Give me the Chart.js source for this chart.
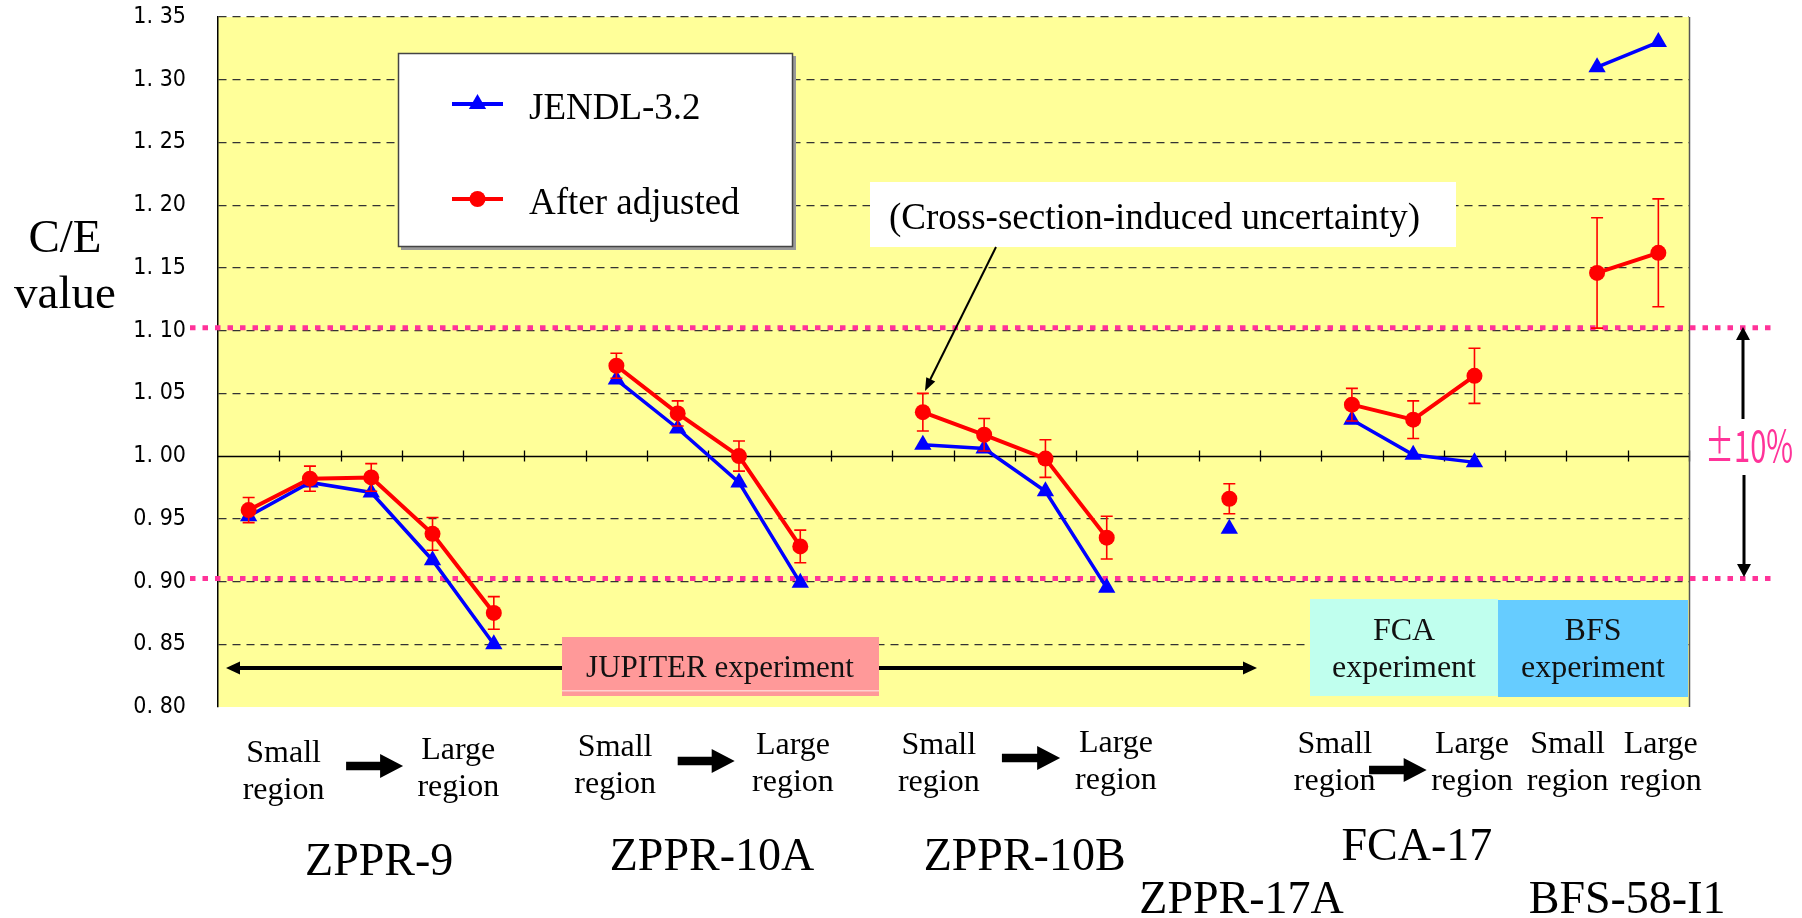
<!DOCTYPE html>
<html>
<head>
<meta charset="utf-8">
<script src="https://cdn.jsdelivr.net/npm/chart.js@4.4.1/dist/chart.umd.min.js"></script>
<style>
  html, body { margin: 0; padding: 0; background: #fff; }
  #wrap { width: 1802px; height: 918px; }
</style>
</head>
<body>
<div id="wrap"><canvas id="ceChart" width="1802" height="918"></canvas></div>
<script>
// one slot per measured region, '' = empty slot between experiments
const categories = ['Z9-1', 'Z9-2', 'Z9-3', 'Z9-4', 'Z9-5', '',
  'Z10A-1', 'Z10A-2', 'Z10A-3', 'Z10A-4', '',
  'Z10B-1', 'Z10B-2', 'Z10B-3', 'Z10B-4', '',
  'Z17A', '',
  'FCA-1', 'FCA-2', 'FCA-3', '',
  'BFS-1', 'BFS-2'];
const jendl = [0.952, 0.979, 0.971, 0.917, 0.850, null,
  1.061, 1.022, 0.979, 0.899, null,
  1.009, 1.006, 0.972, 0.895, null,
  0.942, null,
  1.029, 1.001, 0.995, null,
  1.310, 1.330];
const adjusted = [0.957, 0.982, 0.983, 0.938, 0.875, null,
  1.072, 1.034, 1.000, 0.928, null,
  1.035, 1.017, 0.998, 0.935, null,
  0.966, null,
  1.041, 1.029, 1.064, null,
  1.146, 1.162];
const adjustedErr = [0.010, 0.010, 0.011, 0.013, 0.013, null,
  0.010, 0.010, 0.012, 0.013, null,
  0.015, 0.013, 0.015, 0.017, null,
  0.012, null,
  0.013, 0.015, 0.022, null,
  0.044, 0.043];
const yTickLabels = ['0. 80', '0. 85', '0. 90', '0. 95', '1. 00', '1. 05',
  '1. 10', '1. 15', '1. 20', '1. 25', '1. 30', '1. 35'];
const seriesNames = ['JENDL-3.2', 'After adjusted'];
const limitLines = [0.90, 1.10];
const groupNames = ['ZPPR-9', 'ZPPR-10A', 'ZPPR-10B', 'ZPPR-17A', 'FCA-17', 'BFS-58-I1'];

const serif = '"Liberation Serif", "Times New Roman", serif';

// positions in category units (0 = left edge of plot)
const regionRows = [
  { small: 1.07, large: 3.92, arrow: [2.09, 3.02], ySmall: 762, yLarge: 759, yArrow: 766 },
  { small: 6.48, large: 9.38, arrow: [7.50, 8.43], ySmall: 756, yLarge: 754, yArrow: 761 },
  { small: 11.76, large: 14.65, arrow: [12.79, 13.74], ySmall: 754, yLarge: 752, yArrow: 758 },
  { small: 18.22, large: 20.46, arrow: [18.78, 19.72], ySmall: 753, yLarge: 753, yArrow: 770 },
  { small: 22.02, large: 23.54, arrow: null, ySmall: 753, yLarge: 753 }
];
const groupPos = [[2.63, 875], [8.06, 870], [13.16, 870], [16.70, 913], [19.56, 860], [22.99, 913]];

function arrowHead(ctx, fx, fy, tx, ty, len, half) {
  const a = Math.atan2(ty - fy, tx - fx);
  const bx = tx - len * Math.cos(a), by = ty - len * Math.sin(a);
  ctx.beginPath();
  ctx.moveTo(tx, ty);
  ctx.lineTo(bx + half * Math.sin(a), by - half * Math.cos(a));
  ctx.lineTo(bx - half * Math.sin(a), by + half * Math.cos(a));
  ctx.closePath();
  ctx.fill();
}

function blockArrow(ctx, x1, x2, y) {
  const head = 23, hh = 12, sh = 4.2;
  ctx.beginPath();
  ctx.moveTo(x1, y - sh);
  ctx.lineTo(x2 - head, y - sh);
  ctx.lineTo(x2 - head, y - hh);
  ctx.lineTo(x2, y);
  ctx.lineTo(x2 - head, y + hh);
  ctx.lineTo(x2 - head, y + sh);
  ctx.lineTo(x1, y + sh);
  ctx.closePath();
  ctx.fill();
}

function marker(ctx, style, x, y, r) {
  ctx.beginPath();
  if (style === 'triangle') {
    ctx.moveTo(x, y - r);
    ctx.lineTo(x + r * Math.sin(Math.PI / 3), y + r / 2);
    ctx.lineTo(x - r * Math.sin(Math.PI / 3), y + r / 2);
    ctx.closePath();
  } else {
    ctx.arc(x, y, r, 0, Math.PI * 2);
  }
  ctx.fill();
}

const plotBg = {
  id: 'plotBg',
  beforeDraw(chart) {
    const { ctx, chartArea: a } = chart;
    ctx.save();
    ctx.fillStyle = '#ffffff';
    ctx.fillRect(0, 0, chart.width, chart.height);
    ctx.fillStyle = '#FFFF99';
    ctx.fillRect(a.left, a.top, a.right - a.left, a.bottom - a.top);
    ctx.restore();
  }
};

const decor = {
  id: 'decor',
  beforeDatasetsDraw(chart) {
    const { ctx, chartArea: a, scales: { y: ys } } = chart;
    const catW = (a.right - a.left) / categories.length;
    ctx.save();

    // axis line at 1.00 with category ticks
    const y1 = Math.round(ys.getPixelForValue(1.0)) + 0.5;
    ctx.strokeStyle = '#000';
    ctx.lineWidth = 1.3;
    ctx.beginPath();
    ctx.moveTo(a.left, y1);
    ctx.lineTo(a.right, y1);
    for (let k = 1; k <= categories.length; k++) {
      const x = Math.round(a.left + k * catW) + 0.5;
      ctx.moveTo(x, y1 - 6);
      ctx.lineTo(x, y1 + 5);
    }
    ctx.stroke();

    // right frame
    ctx.strokeStyle = '#555';
    ctx.lineWidth = 1.5;
    ctx.beginPath();
    ctx.moveTo(a.right + 0.5, a.top);
    ctx.lineTo(a.right + 0.5, a.bottom);
    ctx.stroke();

    // +-10 % limit lines
    ctx.strokeStyle = '#FF3399';
    ctx.lineWidth = 5;
    ctx.setLineDash([5.5, 7]);
    limitLines.forEach(v => {
      const y = ys.getPixelForValue(v) - 3;
      ctx.beginPath();
      ctx.moveTo(a.left - 28, y);
      ctx.lineTo(a.right + 82, y);
      ctx.stroke();
    });
    ctx.setLineDash([]);

    // JUPITER range arrow and label box
    ctx.strokeStyle = '#000';
    ctx.fillStyle = '#000';
    ctx.lineWidth = 4;
    ctx.beginPath();
    ctx.moveTo(236, 668);
    ctx.lineTo(1246, 668);
    ctx.stroke();
    arrowHead(ctx, 300, 668, 226, 668, 14, 6.5);
    arrowHead(ctx, 1200, 668, 1257, 668, 14, 6.5);

    ctx.fillStyle = '#FF9999';
    ctx.fillRect(562, 637, 317, 59);
    ctx.fillStyle = '#FFD0D0';
    ctx.fillRect(562, 690, 317, 1.5);
    ctx.fillStyle = '#111';
    ctx.font = '31px ' + serif;
    ctx.textAlign = 'center';
    ctx.textBaseline = 'alphabetic';
    ctx.fillText('JUPITER experiment', 720, 677);

    // FCA / BFS boxes
    ctx.fillStyle = '#C0FFEE';
    ctx.fillRect(1310, 599, 188, 97);
    ctx.fillStyle = '#66CCFF';
    ctx.fillRect(1498, 600, 190, 97);
    ctx.fillStyle = '#111';
    ctx.font = '32px ' + serif;
    ctx.fillText('FCA', 1404, 640);
    ctx.fillText('experiment', 1404, 677);
    ctx.fillText('BFS', 1593, 640);
    ctx.fillText('experiment', 1593, 677);

    // legend
    ctx.fillStyle = '#999';
    ctx.fillRect(401, 56, 395, 194);
    ctx.fillStyle = '#fff';
    ctx.fillRect(398, 53, 395, 194);
    ctx.strokeStyle = '#444';
    ctx.lineWidth = 1.5;
    ctx.strokeRect(398.5, 53.5, 394, 193);
    const legY = [104, 199];
    chart.data.datasets.forEach(ds => {
      const slot = seriesNames.indexOf(ds.label);
      const y = legY[slot];
      ctx.strokeStyle = ds.borderColor;
      ctx.lineWidth = 4;
      ctx.beginPath();
      ctx.moveTo(452, y);
      ctx.lineTo(503, y);
      ctx.stroke();
      ctx.fillStyle = ds.borderColor;
      marker(ctx, ds.pointStyle, 477.5, y, ds.pointStyle === 'triangle' ? 10 : 8);
      ctx.fillStyle = '#000';
      ctx.font = '37px ' + serif;
      ctx.textAlign = 'left';
      ctx.fillText(ds.label, 529, y + 15);
    });

    // callout
    ctx.fillStyle = '#fff';
    ctx.fillRect(870, 182, 586, 65);
    ctx.fillStyle = '#000';
    ctx.font = '37px ' + serif;
    ctx.textAlign = 'left';
    ctx.fillText('(Cross-section-induced uncertainty)', 889, 229);
    ctx.strokeStyle = '#000';
    ctx.lineWidth = 2;
    ctx.beginPath();
    ctx.moveTo(996, 247);
    ctx.lineTo(930, 380);
    ctx.stroke();
    arrowHead(ctx, 996, 247, 925, 391, 13, 5);

    ctx.restore();
  },
  afterDatasetsDraw(chart) {
    const { ctx, scales: { x: xs, y: ys } } = chart;
    ctx.save();
    ctx.strokeStyle = '#FF0000';
    ctx.lineWidth = 1.6;
    adjusted.forEach((v, i) => {
      if (v === null) return;
      const x = xs.getPixelForValue(i);
      const yt = ys.getPixelForValue(v + adjustedErr[i]);
      const yb = ys.getPixelForValue(v - adjustedErr[i]);
      ctx.beginPath();
      ctx.moveTo(x, yt); ctx.lineTo(x, yb);
      ctx.moveTo(x - 6, yt); ctx.lineTo(x + 6, yt);
      ctx.moveTo(x - 6, yb); ctx.lineTo(x + 6, yb);
      ctx.stroke();
    });
    ctx.restore();
  },
  afterDraw(chart) {
    const { ctx, chartArea: a } = chart;
    const catW = (a.right - a.left) / categories.length;
    const ux = u => a.left + u * catW;
    ctx.save();
    ctx.fillStyle = '#000';
    ctx.textAlign = 'center';
    ctx.textBaseline = 'alphabetic';

    // y title
    ctx.font = '47px ' + serif;
    ctx.fillText('C/E', 65, 252);
    ctx.fillText('value', 65, 308);

    // +-10 % marker on the right
    ctx.strokeStyle = '#000';
    ctx.lineWidth = 3;
    ctx.beginPath();
    ctx.moveTo(1743, 338); ctx.lineTo(1743, 419);
    ctx.moveTo(1744, 475); ctx.lineTo(1744, 566);
    ctx.stroke();
    arrowHead(ctx, 1743, 400, 1743, 327, 13, 7);
    arrowHead(ctx, 1744, 500, 1744, 577, 13, 7);
    ctx.save();
    ctx.translate(1749, 462);
    ctx.scale(0.66, 1);
    ctx.fillStyle = '#FF3399';
    ctx.font = '44px "Noto Sans CJK JP", "DejaVu Sans", sans-serif';
    ctx.fillText('\u00B110%', 0, 0);
    ctx.restore();

    // region labels under the plot
    ctx.font = '32px ' + serif;
    regionRows.forEach(r => {
      ctx.fillText('Small', ux(r.small), r.ySmall);
      ctx.fillText('region', ux(r.small), r.ySmall + 37);
      ctx.fillText('Large', ux(r.large), r.yLarge);
      ctx.fillText('region', ux(r.large), r.yLarge + 37);
      if (r.arrow) blockArrow(ctx, ux(r.arrow[0]), ux(r.arrow[1]), r.yArrow);
    });

    // experiment names
    ctx.font = '46px ' + serif;
    groupNames.forEach((g, i) => {
      ctx.fillText(g, ux(groupPos[i][0]), groupPos[i][1]);
    });
    ctx.restore();
  }
};

const ctxCE = document.getElementById('ceChart').getContext('2d');
const ceChart = new Chart(ctxCE, {
  type: 'line',
  data: {
    labels: categories,
    datasets: [{
      label: seriesNames[0],
      data: jendl,
      borderColor: '#0000FF',
      backgroundColor: '#0000FF',
      borderWidth: 3.5,
      pointStyle: 'triangle',
      pointRadius: 10,
      pointBorderWidth: 0,
      pointBackgroundColor: '#0000FF',
      spanGaps: false,
      tension: 0,
      order: 2
    }, {
      label: seriesNames[1],
      data: adjusted,
      borderColor: '#FF0000',
      backgroundColor: '#FF0000',
      borderWidth: 4,
      pointStyle: 'circle',
      pointRadius: 8,
      pointBorderWidth: 0,
      pointBackgroundColor: '#FF0000',
      spanGaps: false,
      tension: 0,
      order: 1
    }]
  },
  options: {
    responsive: false,
    animation: false,
    devicePixelRatio: 1,
    layout: { padding: { left: 0, top: 17, right: 113, bottom: 211 } },
    plugins: {
      legend: { display: false },
      tooltip: { enabled: false }
    },
    scales: {
      x: { type: 'category', display: false, offset: true },
      y: {
        min: 0.8,
        max: 1.35,
        afterFit: scale => { scale.width = 218; },
        ticks: {
          stepSize: 0.05,
          padding: 3,
          color: '#000',
          font: { family: '"Liberation Sans Narrow", "DejaVu Sans Condensed", sans-serif', size: 23, lineHeight: 1 },
          callback: v => yTickLabels[Math.round((v - 0.8) / 0.05)]
        },
        grid: {
          drawTicks: true,
          tickLength: 29,
          tickColor: 'rgba(0,0,0,0)',
          lineWidth: 1.3,
          color: c => {
            const v = c.tick ? c.tick.value : 0;
            if (Math.abs(v - 1.0) < 1e-6 || Math.abs(v - 0.8) < 1e-6) return 'rgba(0,0,0,0)';
            return '#333';
          }
        },
        border: { display: true, color: '#000', width: 1.5, dash: [8, 6] }
      }
    }
  },
  plugins: [plotBg, decor]
});
</script>
</body>
</html>
